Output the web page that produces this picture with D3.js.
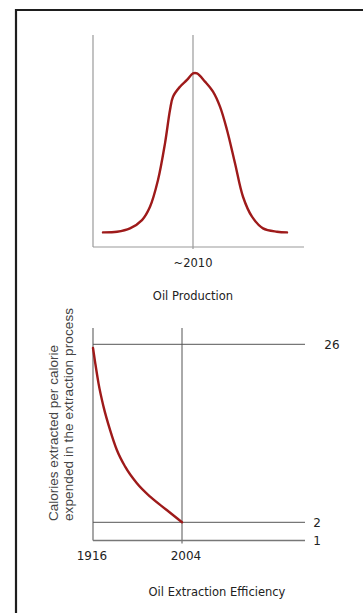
<!DOCTYPE html>
<html>
<head>
<meta charset="utf-8">
<script src="https://cdn.jsdelivr.net/npm/d3@7"></script>
<style>
  html, body { margin: 0; padding: 0; background: #fff; }
  svg { display: block; }
</style>
</head>
<body>
<svg id="chart" width="363" height="613"></svg>
<script>
// ---- Data ----
// Top chart: oil production (relative units), bell curve peaking ~2010
const productionYears  = [1920, 1934, 1947, 1959, 1967, 1975, 1982, 1987, 1990, 1997, 2004, 2010, 2014, 2022, 2030, 2037, 2044, 2052, 2060, 2069, 2080, 2094, 2104];
const productionValues = [6.9, 7.2, 8.8, 12.7, 19, 31.6, 48.9, 64.6, 70.9, 75.6, 78.8, 81.9, 81.9, 78, 73.3, 66.2, 55.2, 39.5, 23.7, 14.3, 8.8, 7.2, 6.9];
const peakYear = 2010;
const peakLabel = "~2010";
const topTitle = "Oil Production";

// Bottom chart: calories extracted per calorie expended
const efficiencyYears  = [1916, 1918.3, 1921.5, 1926.4, 1933, 1939.6, 1947.8, 1959.4, 1972.5, 1988.9, 2004];
const efficiencyValues = [25.5, 23.4, 20.7, 17.6, 14.4, 11.75, 9.5, 7.26, 5.45, 3.66, 2];
const xTickYears  = [1916, 2004];
const xTickLabels = ["1916", "2004"];
const yRefValues  = [26, 2, 1];
const yRefLabels  = ["26", "2", "1"];
const bottomTitle = "Oil Extraction Efficiency";
const yTitleLines = ["Calories extracted per calorie", "expended in the extraction process"];

// ---- Drawing ----
const svg = d3.select("#chart");
const labelFont = "'DejaVu Sans', Verdana, sans-serif";
const curveColor = "#9e1a1a";

// Frame
svg.append("path")
  .attr("d", "M16,613 V10 H363")
  .attr("fill", "none").attr("stroke", "#1e1e1e").attr("stroke-width", 2.2);

// ===== Top chart =====
const xTop = d3.scaleLinear().domain([1910, 2121]).range([93, 304]);
const yTop = d3.scaleLinear().domain([0, 100]).range([247, 35]);
const gTop = svg.append("g");
const topAxisColor = "#9a9a9a";

gTop.append("line").attr("x1", xTop(1910)).attr("x2", xTop(1910))
  .attr("y1", yTop(100)).attr("y2", yTop(0))
  .attr("stroke", topAxisColor).attr("stroke-width", 1.2);
gTop.append("line").attr("x1", xTop(1910)).attr("x2", xTop(2121))
  .attr("y1", yTop(0)).attr("y2", yTop(0))
  .attr("stroke", topAxisColor).attr("stroke-width", 1.2);
gTop.append("line").attr("x1", xTop(peakYear)).attr("x2", xTop(peakYear))
  .attr("y1", yTop(100)).attr("y2", yTop(0) + 2)
  .attr("stroke", topAxisColor).attr("stroke-width", 1.2);

const prodLine = d3.line()
  .x((d, i) => xTop(productionYears[i]))
  .y(d => yTop(d))
  .curve(d3.curveCatmullRom.alpha(0.5));
gTop.append("path")
  .attr("d", prodLine(productionValues))
  .attr("fill", "none").attr("stroke", curveColor)
  .attr("stroke-width", 2.4).attr("stroke-linejoin", "round").attr("stroke-linecap", "round");

gTop.append("text").attr("x", xTop(peakYear)).attr("y", 267)
  .attr("text-anchor", "middle").attr("font-family", labelFont)
  .attr("font-size", 11.5).attr("fill", "#222").text(peakLabel);
gTop.append("text").attr("x", xTop(peakYear)).attr("y", 300)
  .attr("text-anchor", "middle").attr("font-family", labelFont)
  .attr("font-size", 11.5).attr("fill", "#222").text(topTitle);

// ===== Bottom chart =====
const xBot = d3.scaleLinear().domain([1916, 2004]).range([93, 182]);
const yBot = d3.scaleLinear().domain([1, 2, 26]).range([540.5, 522.3, 344.3]);
const gBot = svg.append("g");
const botAxisColor = "#555";
const xEnd = 305;

// y axis
gBot.append("line").attr("x1", xBot(1916)).attr("x2", xBot(1916))
  .attr("y1", 328).attr("y2", yBot(1))
  .attr("stroke", "#777").attr("stroke-width", 1.3);
// 2004 vertical
gBot.append("line").attr("x1", xBot(2004)).attr("x2", xBot(2004))
  .attr("y1", 328).attr("y2", yBot(1) + 3)
  .attr("stroke", botAxisColor).attr("stroke-width", 1);
// horizontal reference lines
gBot.selectAll("line.ref").data(yRefValues).enter().append("line")
  .attr("class", "ref")
  .attr("x1", xBot(1916)).attr("x2", xEnd)
  .attr("y1", d => yBot(d)).attr("y2", d => yBot(d))
  .attr("stroke", (d, i) => i === 2 ? "#777" : botAxisColor)
  .attr("stroke-width", (d, i) => i === 2 ? 1.3 : 1);
gBot.selectAll("text.ref").data(yRefValues).enter().append("text")
  .attr("class", "ref")
  .attr("x", (d, i) => i === 0 ? 332 : 317)
  .attr("y", d => yBot(d) + 4.5)
  .attr("text-anchor", "middle").attr("font-family", labelFont)
  .attr("font-size", 12).attr("fill", "#222")
  .text((d, i) => yRefLabels[i]);

// x tick labels
gBot.selectAll("text.xt").data(xTickYears).enter().append("text")
  .attr("class", "xt")
  .attr("x", (d, i) => xBot(d) + (i === 0 ? -1 : 4))
  .attr("y", 560)
  .attr("text-anchor", "middle").attr("font-family", labelFont)
  .attr("font-size", 12).attr("fill", "#222")
  .text((d, i) => xTickLabels[i]);

// curve
const effLine = d3.line()
  .x((d, i) => xBot(efficiencyYears[i]))
  .y(d => yBot(d))
  .curve(d3.curveMonotoneX);
gBot.append("path")
  .attr("d", effLine(efficiencyValues))
  .attr("fill", "none").attr("stroke", curveColor)
  .attr("stroke-width", 2.4).attr("stroke-linejoin", "round").attr("stroke-linecap", "round");

// titles
gBot.append("text").attr("x", 217).attr("y", 596)
  .attr("text-anchor", "middle").attr("font-family", labelFont)
  .attr("font-size", 11.5).attr("fill", "#222").text(bottomTitle);

const yTitleLengths = [176, 213];
const yTitle = gBot.append("text")
  .attr("transform", "translate(58,521) rotate(-90)")
  .attr("text-anchor", "start").attr("font-family", "'Liberation Sans', Arial, sans-serif")
  .attr("font-size", 13.5).attr("fill", "#444");
yTitle.selectAll("tspan").data(yTitleLines).enter().append("tspan")
  .attr("x", 0).attr("dy", (d, i) => i === 0 ? 0 : 15)
  .attr("textLength", (d, i) => yTitleLengths[i])
  .attr("lengthAdjust", "spacing")
  .text(d => d);
</script>
</body>
</html>
